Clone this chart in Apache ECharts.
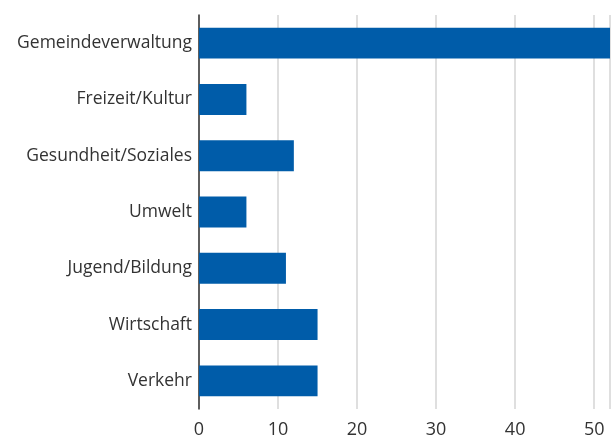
<!DOCTYPE html>
<html>
<head>
<meta charset="utf-8">
<script src="https://cdn.jsdelivr.net/npm/echarts@6/dist/echarts.min.js"></script>
<style>
  html, body { margin: 0; padding: 0; background: #fff; }
  #chart { width: 616px; height: 439px; }
</style>
</head>
<body>
<div id="chart"></div>
<script>
const categories = ['Gemeindeverwaltung', 'Freizeit/Kultur', 'Gesundheit/Soziales', 'Umwelt', 'Jugend/Bildung', 'Wirtschaft', 'Verkehr'];
const values = [52, 6, 12, 6, 11, 15, 15];
const xTicks = [0, 10, 20, 30, 40, 50];

let chart = echarts.init(document.getElementById('chart'));

let option = {
    animation: false,
    textStyle: { fontFamily: 'Open Sans' },
    grid: { left: 199, right: 6, top: 15, bottom: 30 },
    xAxis: {
        type: 'value',
        min: 0,
        max: 52,
        interval: 10,
        axisLine: { show: false },
        axisTick: { show: false },
        axisLabel: {
            color: '#333',
            fontSize: 18,
            margin: 12,
            formatter: v => xTicks.includes(v) ? String(v) : ''
        },
        splitLine: { lineStyle: { color: '#d4d4d4', width: 1.5 } }
    },
    yAxis: {
        type: 'category',
        inverse: true,
        data: categories,
        axisLine: { show: true, lineStyle: { color: '#333', width: 1.5 } },
        axisTick: { show: false },
        axisLabel: { color: '#333', fontSize: 17.5, margin: 7 }
    },
    series: [{
        type: 'bar',
        data: values,
        barWidth: '55%',
        itemStyle: { color: '#005ca9' }
    }]
};

chart.setOption(option);
</script>
</body>
</html>
